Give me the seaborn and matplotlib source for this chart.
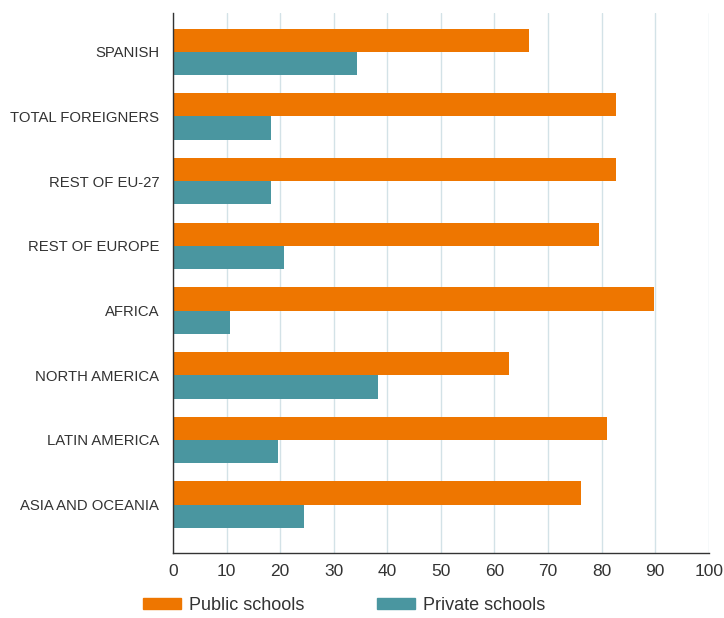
import pandas as pd
import seaborn as sns
import matplotlib.pyplot as plt

regions = ["SPANISH", "TOTAL FOREIGNERS", "REST OF EU-27", "REST OF EUROPE",
           "AFRICA", "NORTH AMERICA", "LATIN AMERICA", "ASIA AND OCEANIA"]
public = [66.5, 82.7, 82.7, 79.5, 89.7, 62.7, 81.0, 76.1]
private = [34.4, 18.2, 18.2, 20.8, 10.7, 38.3, 19.5, 24.5]
series = ["Public schools", "Private schools"]
colors = ["#EE7600", "#4A96A0"]
xticks = list(range(0, 101, 10))

df = pd.DataFrame({
    "region": regions * 2,
    "value": public + private,
    "school": [series[0]] * len(regions) + [series[1]] * len(regions),
})

sns.set_style("white")
plt.rcParams["font.family"] = ["Liberation Sans", "DejaVu Sans"]

fig = plt.figure(figsize=(7.24, 6.18), dpi=100)
ax = fig.add_axes([0.239, 0.105, 0.740, 0.874])

sns.barplot(data=df, y="region", x="value", hue="school", order=regions,
            hue_order=series, palette=colors, orient="h", width=0.72,
            saturation=1, linewidth=0, ax=ax, legend=False)

ax.set_xlim(0, 100)
ax.set_ylim(7.75, -0.6)
ax.set_xticks(xticks)
ax.set_xlabel("")
ax.set_ylabel("")
ax.grid(axis="x", color="#D3E2E7", linewidth=1)
ax.set_axisbelow(True)
for s in ["top", "right"]:
    ax.spines[s].set_visible(False)
for s in ["left", "bottom"]:
    ax.spines[s].set_color("#333333")
    ax.spines[s].set_linewidth(1)
ax.tick_params(axis="x", direction="in", length=7, width=1, color="#333333",
               labelsize=12.5, labelcolor="#333333", pad=8)
ax.tick_params(axis="y", length=0, labelsize=10.7, labelcolor="#333333", pad=10)

# legend sits under the axis, two columns
handles = [plt.Rectangle((0, 0), 1, 1, color=c) for c in colors]
fig.legend(handles, series, loc="center left", bbox_to_anchor=(0.175, 0.02),
           ncol=2, frameon=False, fontsize=13, labelcolor="#333333",
           handlelength=2.1, handleheight=0.55, handletextpad=0.45,
           columnspacing=4.0)

fig.savefig("out.png", dpi=100)
